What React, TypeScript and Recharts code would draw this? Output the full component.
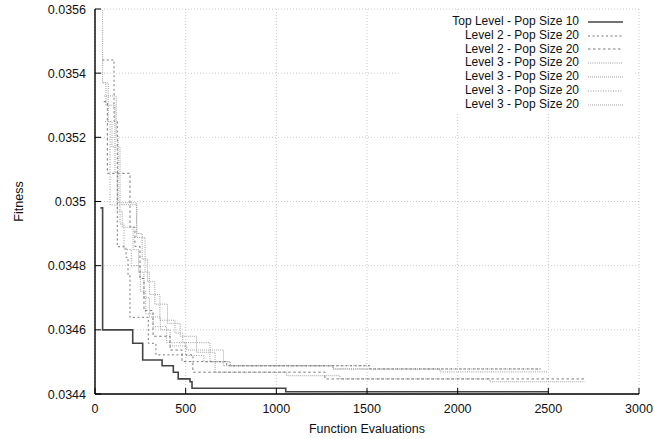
import React from 'react';
import { LineChart, Line, XAxis, YAxis, CartesianGrid, Legend, Label } from 'recharts';

const FONT = '"Liberation Sans", Arial, Helvetica, sans-serif';
const FS = 12.5;
const KEY_FS = 12;
const ROW = 13.8;

// Axis ticks
const xTicks = [0, 500, 1000, 1500, 2000, 2500, 3000];
const yTicks = [0.0344, 0.0346, 0.0348, 0.035, 0.0352, 0.0354, 0.0356];

// Series names
const seriesNames = [
  'Top Level - Pop Size 10',
  'Level 2 - Pop Size 20',
  'Level 2 - Pop Size 20',
  'Level 3 - Pop Size 20',
  'Level 3 - Pop Size 20',
  'Level 3 - Pop Size 20',
  'Level 3 - Pop Size 20',
];

// Best fitness so far vs. number of function evaluations
const topEvals = [30, 42, 208, 263, 370, 432, 459, 524, 535, 1052, 2500];
const topFitness = [0.03498, 0.0346, 0.034558, 0.034506, 0.034488, 0.034468, 0.034447, 0.034438, 0.034418, 0.034407, 0.034407];

const l2aEvals = [40, 105, 123, 171, 182, 193, 294, 336, 540, 726, 1517, 2460];
const l2aFitness = [0.035441, 0.03525, 0.034859, 0.034826, 0.03477, 0.034639, 0.034558, 0.034522, 0.034501, 0.034488, 0.034478, 0.034478];

const l2bEvals = [48, 68, 193, 220, 248, 270, 320, 414, 480, 540, 1268, 2700];
const l2bFitness = [0.035311, 0.035088, 0.03492, 0.03486, 0.03476, 0.03466, 0.03458, 0.034537, 0.034501, 0.034468, 0.034447, 0.034447];

const l3aEvals = [38, 42, 73, 94, 138, 230, 276, 300, 358, 441, 484, 634, 745, 1313, 1903, 2500];
const l3aFitness = [0.0358, 0.03537, 0.03525, 0.03517, 0.03499, 0.034888, 0.03478, 0.03471, 0.03463, 0.03459, 0.03456, 0.034501, 0.034488, 0.034478, 0.034469, 0.034469];

const l3bEvals = [50, 117, 127, 230, 260, 290, 330, 400, 470, 560, 662, 1057, 1351, 2178, 2700];
const l3bFitness = [0.035329, 0.035207, 0.034996, 0.0349, 0.03482, 0.03475, 0.03468, 0.03462, 0.03458, 0.03453, 0.034468, 0.034457, 0.034447, 0.034438, 0.034438];

const l3cEvals = [55, 83, 138, 160, 200, 250, 280, 320, 395, 500, 600, 745, 1517];
const l3cFitness = [0.035249, 0.034989, 0.03493, 0.03485, 0.0348, 0.03472, 0.03465, 0.03461, 0.03456, 0.03452, 0.0345, 0.034488, 0.034488];

const l3dEvals = [45, 60, 110, 123, 150, 210, 240, 270, 300, 360, 414, 506, 708, 1313, 2454];
const l3dFitness = [0.03537, 0.0353, 0.03509, 0.03497, 0.03492, 0.03485, 0.03478, 0.0347, 0.03464, 0.0346, 0.03455, 0.034537, 0.034488, 0.034478, 0.034478];

const toPoints = (xs: number[], ys: number[]) => xs.map((x, i) => ({ x, y: ys[i] }));

const styles = [
  { stroke: '#444444', width: 1.6, dash: undefined as string | undefined },
  { stroke: '#7a7a7a', width: 1, dash: '2 2.5' },
  { stroke: '#7a7a7a', width: 1, dash: '2.5 2.5' },
  { stroke: '#9a9a9a', width: 1, dash: '1 1.2' },
  { stroke: '#a0a0a0', width: 1, dash: '1 1' },
  { stroke: '#9a9a9a', width: 1, dash: '1 1.5' },
  { stroke: '#a5a5a5', width: 1, dash: '1 1' },
];

const series = [
  toPoints(topEvals, topFitness),
  toPoints(l2aEvals, l2aFitness),
  toPoints(l2bEvals, l2bFitness),
  toPoints(l3aEvals, l3aFitness),
  toPoints(l3bEvals, l3bFitness),
  toPoints(l3cEvals, l3cFitness),
  toPoints(l3dEvals, l3dFitness),
];

const fmtY = (v: number) => String(Number(v.toFixed(4)));

const TICK = 6;

const BottomTick = (p: any) => (
  <g>
    <line x1={p.x} y1={p.y} x2={p.x} y2={p.y - TICK} stroke="#000" strokeWidth={1} />
    <text x={p.x} y={p.y + 18.5} textAnchor="middle" fontSize={FS} fontFamily={FONT} fill="#111">
      {p.payload.value}
    </text>
  </g>
);

const LeftTick = (p: any) => (
  <g>
    <line x1={p.x} y1={p.y} x2={p.x + TICK} y2={p.y} stroke="#000" strokeWidth={1} />
    <text x={p.x - 9} y={p.y + 4.5} textAnchor="end" fontSize={FS} fontFamily={FONT} fill="#111">
      {fmtY(p.payload.value)}
    </text>
  </g>
);

const TopTick = (p: any) => (
  <line x1={p.x} y1={p.y} x2={p.x} y2={p.y + TICK} stroke="#000" strokeWidth={1} />
);

const RightTick = (p: any) => (
  <line x1={p.x} y1={p.y} x2={p.x - TICK} y2={p.y} stroke="#000" strokeWidth={1} />
);

const XTitle = (props: any) => {
  const vb = props.viewBox;
  return (
    <text x={vb.x + vb.width / 2} y={vb.y + 39} textAnchor="middle" fontSize={FS} fontFamily={FONT} fill="#111">
      Function Evaluations
    </text>
  );
};

const YTitle = (props: any) => {
  const vb = props.viewBox;
  const cx = vb.x + 18;
  const cy = vb.y + vb.height / 2;
  return (
    <text x={cx} y={cy} transform={`rotate(-90, ${cx}, ${cy})`} dy={4.5} textAnchor="middle" fontSize={FS} fontFamily={FONT} fill="#111">
      Fitness
    </text>
  );
};

const KeyBox = () => (
  <div style={{ background: '#fff', fontFamily: FONT, fontSize: KEY_FS, color: '#111' }}>
    {seriesNames.map((name, i) => (
      <div key={i} style={{ display: 'flex', justifyContent: 'flex-end', alignItems: 'center', height: ROW, lineHeight: `${ROW}px` }}>
        <span style={{ whiteSpace: 'nowrap' }}>{name}</span>
        <svg width={35} height={8} style={{ marginLeft: 9, marginRight: 10, display: 'block' }}>
          <line x1={0} y1={4} x2={35} y2={4} stroke={styles[i].stroke} strokeWidth={styles[i].width} strokeDasharray={styles[i].dash} />
        </svg>
      </div>
    ))}
  </div>
);

export default function App() {
  return (
    <div style={{ position: 'absolute', left: 0, top: 0, background: '#fff' }}>
      <LineChart width={654} height={439} margin={{ top: 9, right: 15, bottom: 0, left: 0 }}>
        <CartesianGrid stroke="#bdbdbd" strokeDasharray="1 2" strokeWidth={0.8} />
        <XAxis
          dataKey="x"
          type="number"
          domain={[0, 3000]}
          ticks={xTicks}
          allowDataOverflow
          height={45}
          tickLine={false}
          tickSize={0}
          tickMargin={0}
          tick={<BottomTick />}
          axisLine={{ stroke: '#000', strokeWidth: 1.4 }}
          interval={0}
        >
          <Label content={<XTitle />} />
        </XAxis>
        <XAxis
          xAxisId="top"
          orientation="top"
          type="number"
          domain={[0, 3000]}
          ticks={xTicks}
          height={0}
          tickLine={false}
          tickSize={0}
          tickMargin={0}
          tick={<TopTick />}
          axisLine={{ stroke: '#000', strokeWidth: 1.4 }}
          interval={0}
        />
        <YAxis
          type="number"
          domain={[0.0344, 0.0356]}
          ticks={yTicks}
          allowDataOverflow
          width={95}
          tickLine={false}
          tickSize={0}
          tickMargin={0}
          tick={<LeftTick />}
          axisLine={{ stroke: '#000', strokeWidth: 1.4 }}
          interval={0}
        >
          <Label content={<YTitle />} />
        </YAxis>
        <YAxis
          yAxisId="right"
          orientation="right"
          type="number"
          domain={[0.0344, 0.0356]}
          ticks={yTicks}
          width={0}
          tickLine={false}
          tickSize={0}
          tickMargin={0}
          tick={<RightTick />}
          axisLine={{ stroke: '#000', strokeWidth: 1.4 }}
          interval={0}
        />
        <Legend
          layout="vertical"
          align="center"
          verticalAlign="middle"
          content={<KeyBox />}
          wrapperStyle={{ position: 'absolute', left: 400, top: 15, width: 233, height: 97, background: '#fff' }}
        />
        {series.map((data, i) => (
          <Line
            key={i}
            data={data}
            dataKey="y"
            name={seriesNames[i] + ' ' + i}
            type="stepAfter"
            stroke={styles[i].stroke}
            strokeWidth={styles[i].width}
            strokeDasharray={styles[i].dash}
            dot={false}
            activeDot={false}
            isAnimationActive={false}
          />
        )).reverse()}
      </LineChart>
    </div>
  );
}
